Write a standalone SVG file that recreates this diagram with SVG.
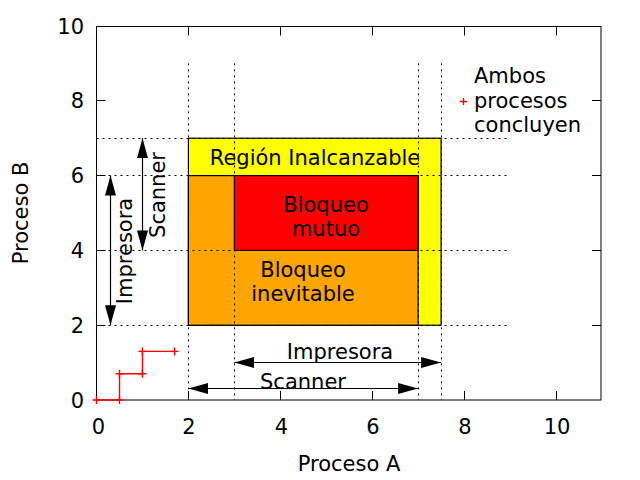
<svg xmlns="http://www.w3.org/2000/svg" width="640" height="480" viewBox="0 0 640 480">
<style>
text{font-family:"DejaVu Sans","Liberation Sans",sans-serif;font-size:21px;fill:#000}
.m{text-anchor:middle}
.e{text-anchor:end}
.ax{fill:none;stroke:#000;stroke-width:1}
.dot{stroke:#000;stroke-width:1;stroke-dasharray:2,4;fill:none}
.rc{stroke:#000;stroke-width:1.2}
.arr{stroke:#000;stroke-width:1.2;fill:none;marker-start:url(#ah);marker-end:url(#ah)}
.tr{stroke:#f00;stroke-width:1.4;fill:none}
</style>
<defs>
<marker id="ah" viewBox="0 0 20 12" refX="20" refY="6" markerWidth="20" markerHeight="12" markerUnits="userSpaceOnUse" orient="auto-start-reverse">
<path d="M0,0.5 L20,6 L0,11.5 z" fill="#000"/>
</marker>
<path id="pl" d="M-4,0 H4 M0,-4 V4" stroke="#f00" stroke-width="1.4" fill="none"/>
</defs>
<rect width="640" height="480" fill="#fff"/>

<g id="regions">
<g id="region-inalcanzable">
<rect class="rc" x="188.4" y="138.2" width="252.7" height="187" fill="#ffff00"/>
</g>
<g id="bloqueo-inevitable">
<rect class="rc" x="188.4" y="175.6" width="229.75" height="149.6" fill="#ffa500"/>
</g>
<g id="bloqueo-mutuo">
<rect class="rc" x="234.35" y="175.6" width="183.8" height="74.8" fill="#ff0000"/>
</g>
</g>

<g id="guides">
<path class="dot" d="M188.5,63.4 V400 M234.5,63.4 V400 M418.5,63.4 V400 M441.5,63.4 V400"/>
<path class="dot" d="M96.5,325.5 H510 M96.5,250.5 H510 M96.5,175.5 H510 M96.5,138.5 H510"/>
</g>

<g id="axes">
<rect class="ax" x="96.5" y="26.5" width="504.5" height="373.5"/>
<path class="ax" d="M96.5,325.5 h9 M96.5,250.5 h9 M96.5,175.5 h9 M96.5,100.5 h9 M601,325.5 h-9 M601,250.5 h-9 M601,175.5 h-9 M601,100.5 h-9"/>
<path class="ax" d="M188.5,400 v-9 M280.5,400 v-9 M372.5,400 v-9 M464.5,400 v-9 M556.5,400 v-9 M188.5,26.5 v9 M280.5,26.5 v9 M372.5,26.5 v9 M464.5,26.5 v9 M556.5,26.5 v9"/>
<g class="e">
<text x="84" y="407.5">0</text>
<text x="84" y="332.5">2</text>
<text x="84" y="257.5">4</text>
<text x="84" y="182.5">6</text>
<text x="84" y="108">8</text>
<text x="84" y="33.5">10</text>
</g>
<g class="m">
<text x="98.5" y="433.5">0</text>
<text x="189" y="433.5">2</text>
<text x="281.5" y="433.5">4</text>
<text x="373" y="433.5">6</text>
<text x="465" y="433.5">8</text>
<text x="557" y="433.5">10</text>
</g>
<text class="m" x="349" y="471">Proceso A</text>
<text class="m" transform="translate(28,213) rotate(-90)">Proceso B</text>
</g>

<g id="connectors">
<line class="arr" x1="110.5" y1="175.6" x2="110.5" y2="325.2"/>
<line class="arr" x1="142.5" y1="138.2" x2="142.5" y2="250.4"/>
<line class="arr" x1="234.35" y1="362.5" x2="441.1" y2="362.5"/>
<line class="arr" x1="188.4" y1="388.5" x2="418.15" y2="388.5"/>
</g>

<g id="labels">
<text class="m" x="315" y="165">Región Inalcanzable</text>
<text class="m" x="326" y="212">Bloqueo</text>
<text class="m" x="326" y="236">mutuo</text>
<text class="m" x="303" y="277">Bloqueo</text>
<text class="m" x="303" y="301">inevitable</text>
<text class="m" x="340" y="359">Impresora</text>
<text class="m" x="303" y="388.5">Scanner</text>
<text class="m" transform="translate(132,251) rotate(-90)">Impresora</text>
<text class="m" transform="translate(164.5,195) rotate(-90)">Scanner</text>
</g>

<g id="trajectory">
<polyline class="tr" points="96.5,400 119.5,400 119.5,373.8 142.45,373.8 142.45,351.4 174.6,351.4"/>
<use href="#pl" x="96.5" y="400"/>
<use href="#pl" x="119.5" y="400"/>
<use href="#pl" x="119.5" y="373.8"/>
<use href="#pl" x="142.45" y="373.8"/>
<use href="#pl" x="142.45" y="351.4"/>
<use href="#pl" x="174.6" y="351.4"/>
</g>

<g id="legend">
<path d="M460,101.5 h7 M463.5,98 v7" stroke="#f00" stroke-width="1.4" fill="none"/>
<text x="474" y="83">Ambos</text>
<text x="474" y="107.5">procesos</text>
<text x="474" y="132">concluyen</text>
</g>
</svg>
